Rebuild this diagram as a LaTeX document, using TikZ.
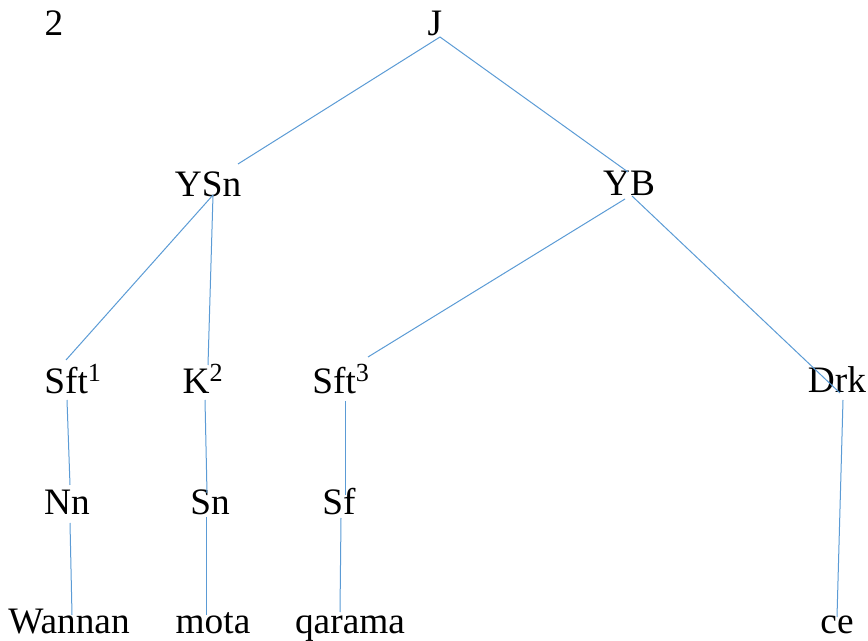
\documentclass[tikz,border=0pt]{standalone}
\usepackage{fontspec}
\setmainfont{Liberation Serif}
\definecolor{linkblue}{RGB}{91,155,213}
\begin{document}
\begin{tikzpicture}[x=0.75pt,y=-0.75pt,
  lbl/.style={anchor=base,inner sep=0pt,font=\fontsize{28}{34}\selectfont},
  edge/.style={draw=linkblue, line width=0.75pt}]
\useasboundingbox (0,0) rectangle (868,641);
% labels
\node[lbl] (num) at (54,36) {2};
\node[lbl] (J) at (435,36) {J};
\node[lbl] (YSn) at (208,197) {YSn};
\node[lbl] (YB) at (629,196) {YB};
\node[lbl] (Sft1) at (73,394) {Sft\textsuperscript{1}};
\node[lbl] (K2) at (203,394) {K\textsuperscript{2}};
\node[lbl] (Sft3) at (341,394) {Sft\textsuperscript{3}};
\node[lbl] (Drk) at (837,393) {Drk};
\node[lbl] (Nn) at (67,515) {Nn};
\node[lbl] (Sn) at (210,515) {Sn};
\node[lbl] (Sf) at (339,515) {Sf};
\node[lbl] (Wannan) at (69,633) {Wannan};
\node[lbl] (mota) at (213,633) {mota};
\node[lbl] (qarama) at (350,633) {qarama};
\node[lbl] (ce) at (837,633) {ce};
% connector end points
\coordinate (Jb) at (440,37);
\coordinate (YSnT) at (238,164);
\coordinate (YSnB) at (213,195);
\coordinate (YBT) at (628,172);
\coordinate (YBBl) at (625,199);
\coordinate (YBBr) at (632,196);
\coordinate (Sft1T) at (66,360);
\coordinate (Sft1B) at (67,400);
\coordinate (K2T) at (208,365);
\coordinate (K2B) at (205,400);
\coordinate (Sft3T) at (368,357);
\coordinate (Sft3B) at (345,401);
\coordinate (DrkT) at (840,393);
\coordinate (DrkB) at (843,400);
\coordinate (NnT) at (70,485);
\coordinate (NnB) at (70,523);
\coordinate (SnT) at (207,493);
\coordinate (SnB) at (206.5,517);
\coordinate (SfT) at (345,495);
\coordinate (SfB) at (341,518);
\coordinate (WannanT) at (72,615);
\coordinate (motaT) at (206.5,615);
\coordinate (qaramaT) at (340,612);
\coordinate (ceT) at (837,617);
% connectors
\draw[edge] (Jb) -- (YSnT);
\draw[edge] (Jb) -- (YBT);
\draw[edge] (YSnB) -- (Sft1T);
\draw[edge] (YSnB) -- (K2T);
\draw[edge] (YBBl) -- (Sft3T);
\draw[edge] (YBBr) -- (DrkT);
\draw[edge] (Sft1B) -- (NnT);
\draw[edge] (NnB) -- (WannanT);
\draw[edge] (K2B) -- (SnT);
\draw[edge] (SnB) -- (motaT);
\draw[edge] (Sft3B) -- (SfT);
\draw[edge] (SfB) -- (qaramaT);
\draw[edge] (DrkB) -- (ceT);
\end{tikzpicture}
\end{document}
